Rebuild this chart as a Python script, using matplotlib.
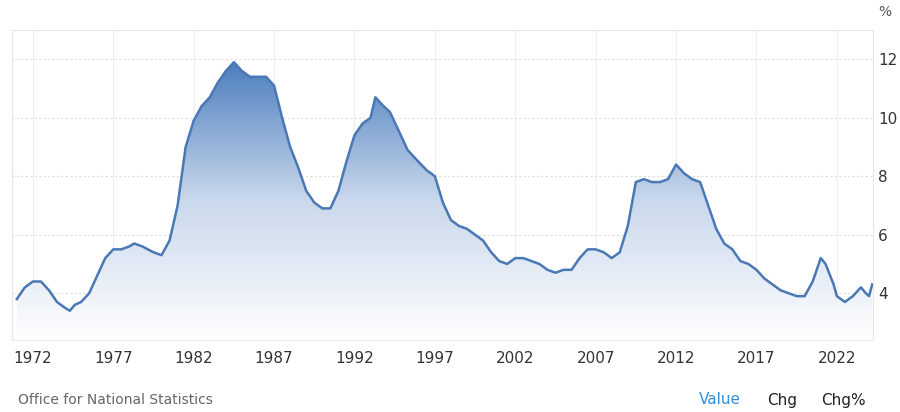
import numpy as np
import matplotlib.pyplot as plt
from matplotlib.colors import LinearSegmentedColormap

# UK unemployment rate (%)
years = [1971.0, 1971.5, 1972.0, 1972.5, 1973.0, 1973.5, 1974.0, 1974.3, 1974.6, 1975.0,
         1975.5, 1976.0, 1976.5, 1977.0, 1977.5, 1978.0, 1978.3, 1978.8, 1979.5, 1980.0,
         1980.5, 1981.0, 1981.5, 1982.0, 1982.5, 1983.0, 1983.5, 1984.0, 1984.5, 1985.0,
         1985.5, 1986.0, 1986.5, 1987.0, 1987.5, 1988.0, 1988.5, 1989.0, 1989.5, 1990.0,
         1990.5, 1991.0, 1991.5, 1992.0, 1992.5, 1993.0, 1993.3, 1993.8, 1994.2, 1994.8,
         1995.3, 1995.8, 1996.5, 1997.0, 1997.5, 1998.0, 1998.5, 1999.0, 1999.5, 2000.0,
         2000.5, 2001.0, 2001.5, 2002.0, 2002.5, 2003.0, 2003.5, 2004.0, 2004.5, 2005.0,
         2005.5, 2006.0, 2006.5, 2007.0, 2007.5, 2008.0, 2008.5, 2009.0, 2009.5, 2010.0,
         2010.5, 2011.0, 2011.5, 2012.0, 2012.5, 2013.0, 2013.5, 2014.0, 2014.5, 2015.0,
         2015.5, 2016.0, 2016.5, 2017.0, 2017.5, 2018.0, 2018.5, 2019.0, 2019.5, 2020.0,
         2020.5, 2021.0, 2021.3, 2021.8, 2022.0, 2022.5, 2023.0, 2023.5, 2023.8, 2024.0,
         2024.2]
rate = [3.8, 4.2, 4.4, 4.4, 4.1, 3.7, 3.5, 3.4, 3.6, 3.7,
        4.0, 4.6, 5.2, 5.5, 5.5, 5.6, 5.7, 5.6, 5.4, 5.3,
        5.8, 7.0, 9.0, 9.9, 10.4, 10.7, 11.2, 11.6, 11.9, 11.6,
        11.4, 11.4, 11.4, 11.1, 10.0, 9.0, 8.3, 7.5, 7.1, 6.9,
        6.9, 7.5, 8.5, 9.4, 9.8, 10.0, 10.7, 10.4, 10.2, 9.5,
        8.9, 8.6, 8.2, 8.0, 7.1, 6.5, 6.3, 6.2, 6.0, 5.8,
        5.4, 5.1, 5.0, 5.2, 5.2, 5.1, 5.0, 4.8, 4.7, 4.8,
        4.8, 5.2, 5.5, 5.5, 5.4, 5.2, 5.4, 6.3, 7.8, 7.9,
        7.8, 7.8, 7.9, 8.4, 8.1, 7.9, 7.8, 7.0, 6.2, 5.7,
        5.5, 5.1, 5.0, 4.8, 4.5, 4.3, 4.1, 4.0, 3.9, 3.9,
        4.4, 5.2, 5.0, 4.3, 3.9, 3.7, 3.9, 4.2, 4.0, 3.9,
        4.3]
tick_years = [1972, 1977, 1982, 1987, 1992, 1997, 2002, 2007, 2012, 2017, 2022]
y_ticks = [4, 6, 8, 10, 12]

x0, x1 = 1970.7, 2024.25
y0, y1 = 2.4, 13.0

fig = plt.figure(figsize=(9, 4.12), dpi=100)
ax = fig.add_axes([12 / 900, 72 / 412, 861 / 900, 310 / 412])
ax.set_xlim(x0, x1)
ax.set_ylim(y0, y1)

# gradient fill under the line
cmap = LinearSegmentedColormap.from_list('g', ['#ffffff', '#c9d8ec', '#4a7cbd'])
grad = np.linspace(0, 1, 256).reshape(-1, 1)
im = ax.imshow(grad, extent=[x0, x1, y0, 12.0], origin='lower', aspect='auto',
               cmap=cmap, zorder=1)
poly = ax.fill_between(years, rate, y0, color='none')
im.set_clip_path(poly.get_paths()[0], transform=ax.transData)
ax.plot(years, rate, color='#4a78b5', lw=1.8, zorder=3)

ax.yaxis.tick_right()
ax.set_yticks(y_ticks)
ax.set_xticks(tick_years)
ax.tick_params(length=0, labelsize=11, colors='#333333')
ax.tick_params(axis='x', pad=8)
ax.grid(axis='y', color='#dddddd', ls=(0, (2, 2)), lw=0.8)
ax.grid(axis='x', color='#eeeeee', lw=0.8)
ax.set_axisbelow(True)
for s in ax.spines.values():
    s.set_color('#e6e6e6')

fig.text(885 / 900, 1 - 12 / 412, '%', fontsize=10, color='#555555', ha='center', va='center')
fig.text(18 / 900, 1 - 400 / 412, 'Office for National Statistics', fontsize=10,
         color='#666666', va='center')
fig.text(720 / 900, 1 - 400 / 412, 'Value', fontsize=11, color='#2f8fd8', ha='center', va='center')
fig.text(782 / 900, 1 - 400 / 412, 'Chg', fontsize=11, color='#222222', ha='center', va='center')
fig.text(843 / 900, 1 - 400 / 412, 'Chg%', fontsize=11, color='#222222', ha='center', va='center')

fig.savefig('out.png', dpi=100)
